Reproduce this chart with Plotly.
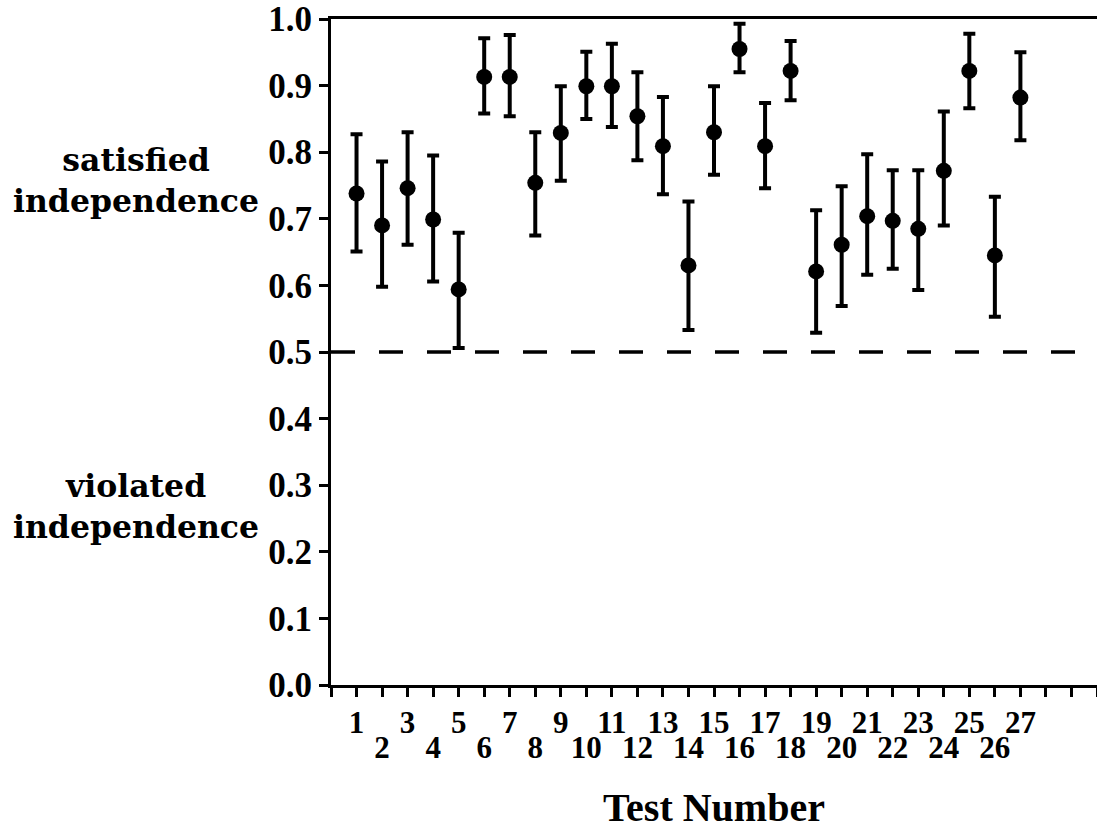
import plotly.graph_objects as go

# ---- data ----
tests = [1, 2, 3, 4, 5, 6, 7, 8, 9, 10, 11, 12, 13, 14, 15, 16, 17, 18, 19, 20,
         21, 22, 23, 24, 25, 26, 27]
proportion = [0.738, 0.690, 0.746, 0.699, 0.594, 0.913, 0.913, 0.754, 0.829, 0.899,
              0.899, 0.854, 0.809, 0.630, 0.830, 0.955, 0.809, 0.922, 0.621, 0.661,
              0.704, 0.697, 0.685, 0.772, 0.922, 0.645, 0.882]
upper = [0.827, 0.786, 0.830, 0.795, 0.679, 0.971, 0.976, 0.830, 0.899, 0.951,
         0.963, 0.920, 0.883, 0.726, 0.899, 0.993, 0.874, 0.967, 0.713, 0.749,
         0.797, 0.773, 0.773, 0.861, 0.978, 0.733, 0.950]
lower = [0.651, 0.598, 0.661, 0.606, 0.506, 0.858, 0.854, 0.675, 0.757, 0.850,
         0.838, 0.788, 0.737, 0.533, 0.766, 0.920, 0.746, 0.878, 0.529, 0.569,
         0.616, 0.625, 0.593, 0.690, 0.866, 0.553, 0.818]

x_tick_positions = [0, 1, 2, 3, 4, 5, 6, 7, 8, 9, 10, 11, 12, 13, 14, 15, 16, 17, 18,
                    19, 20, 21, 22, 23, 24, 25, 26, 27, 28, 29, 30]
odd_tick_labels = ["", "1", "", "3", "", "5", "", "7", "", "9", "", "11", "", "13", "",
                   "15", "", "17", "", "19", "", "21", "", "23", "", "25", "", "27",
                   "", "", ""]
even_tick_positions = [2, 4, 6, 8, 10, 12, 14, 16, 18, 20, 22, 24, 26]
even_tick_labels = ["2", "4", "6", "8", "10", "12", "14", "16", "18", "20", "22",
                    "24", "26"]
y_tick_values = [0.0, 0.1, 0.2, 0.3, 0.4, 0.5, 0.6, 0.7, 0.8, 0.9, 1.0]
y_tick_labels = ["0.0", "0.1", "0.2", "0.3", "0.4", "0.5", "0.6", "0.7", "0.8", "0.9", "1.0"]
chance_level = 0.5

err_plus = [u - p for u, p in zip(upper, proportion)]
err_minus = [p - l for p, l in zip(proportion, lower)]

NUM_FONT = "Liberation Serif"
TXT_FONT = "DejaVu Serif"

fig = go.Figure()
fig.add_trace(go.Scatter(
    x=tests, y=proportion, mode="markers",
    marker=dict(color="black", size=16),
    error_y=dict(type="data", symmetric=False, array=err_plus, arrayminus=err_minus,
                 color="black", thickness=4, width=6),
    showlegend=False, cliponaxis=False,
))
# invisible trace so the second (even-label) x axis is drawn
fig.add_trace(go.Scatter(x=[None], y=[None], xaxis="x2", yaxis="y",
                         showlegend=False, hoverinfo="skip"))

fig.add_hline(y=chance_level, line=dict(color="black", width=3.5, dash="24px,24px"))

axis_common = dict(showgrid=False, zeroline=False, color="black")

fig.update_layout(
    width=1097, height=830,
    margin=dict(l=331, r=0, t=18, b=142),
    paper_bgcolor="white", plot_bgcolor="white",
    xaxis=dict(
        range=[0, 30], tickmode="array", tickvals=x_tick_positions,
        ticktext=odd_tick_labels, ticks="outside", ticklen=9, tickwidth=3,
        tickcolor="black", showline=True, linewidth=3, linecolor="black",
        mirror=True, ticklabelstandoff=-1,
        tickfont=dict(family=NUM_FONT, size=31, color="black", weight="bold"),
        **axis_common,
    ),
    xaxis2=dict(
        range=[0, 30], overlaying="x", anchor="y", side="bottom",
        tickmode="array", tickvals=even_tick_positions, ticktext=even_tick_labels,
        ticks="outside", ticklen=9, tickwidth=3, tickcolor="black",
        showline=False, ticklabelstandoff=26,
        tickfont=dict(family=NUM_FONT, size=31, color="black", weight="bold"),
        title=dict(text="Test Number", standoff=37,
                   font=dict(family=NUM_FONT, size=40, color="black", weight="bold")),
        **axis_common,
    ),
    yaxis=dict(
        range=[0, 1.0], tickmode="array", tickvals=y_tick_values,
        ticktext=y_tick_labels, ticks="outside", ticklen=9, tickwidth=3,
        tickcolor="black", showline=True, linewidth=3, linecolor="black",
        ticklabeloverflow="allow",
        tickfont=dict(family=NUM_FONT, size=35, color="black", weight="bold"),
        **axis_common,
    ),
    annotations=[
        dict(text="satisfied<br>independence", xref="paper", yref="y",
             x=-0.2546, y=0.758, xanchor="center", yanchor="middle", showarrow=False,
             font=dict(family=TXT_FONT, size=31.5, color="black", weight="bold")),
        dict(text="violated<br>independence", xref="paper", yref="y",
             x=-0.2546, y=0.269, xanchor="center", yanchor="middle", showarrow=False,
             font=dict(family=TXT_FONT, size=31.5, color="black", weight="bold")),
    ],
)

fig.write_html("out.html", config={"displayModeBar": False},
               post_script="document.body.style.margin='0';document.body.style.padding='0';")
